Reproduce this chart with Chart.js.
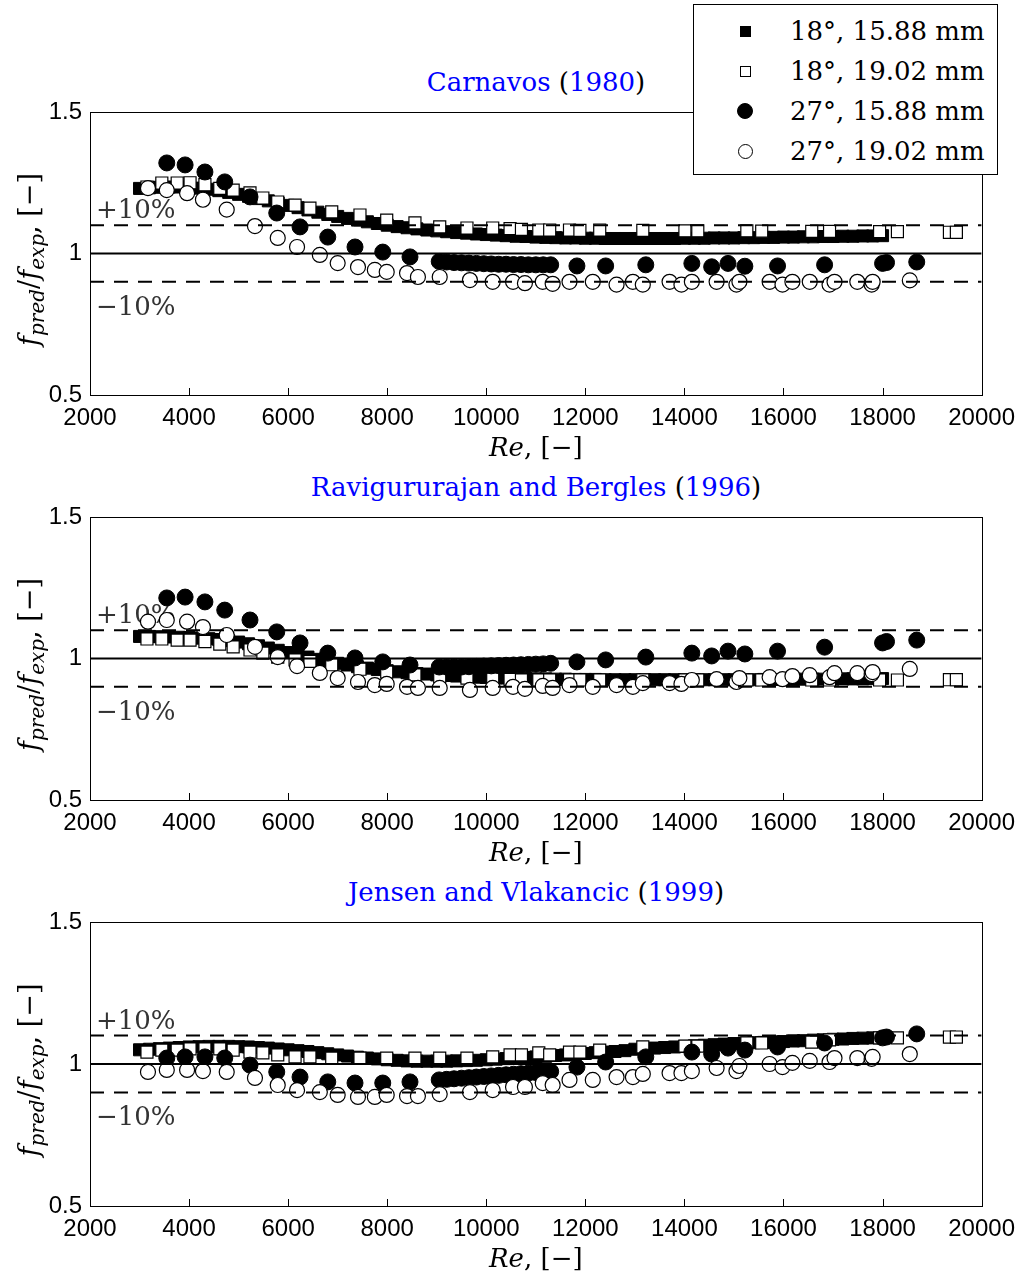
<!DOCTYPE html>
<html>
<head>
<meta charset="utf-8">
<script src="https://cdn.jsdelivr.net/npm/chart.js@4.4.1/dist/chart.umd.min.js"></script>
<style>
  body { margin: 0; background: #fff; width: 1024px; height: 1276px; position: relative; overflow: hidden; }
  canvas { position: absolute; left: 0; }
  .title { position: absolute; left: 90px; width: 892px; text-align: center; font-family: "DejaVu Serif"; font-size: 26px; line-height: 30px; color: #000; }
  .title .cite { color: #0000ff; }
  #legend { position: absolute; left: 693px; top: 4px; width: 303px; height: 169px; border: 1px solid #000; background: #fff; z-index: 5; }
  #legend .row { position: absolute; left: 0; height: 30px; line-height: 30px; font-family: "DejaVu Serif"; font-size: 26px; }
  #legend .lt { position: absolute; left: 96px; white-space: nowrap; }
  #legend .mk { position: absolute; box-sizing: border-box; border: 1px solid #000; }
</style>
</head>
<body>
<div id="t1" class="title" style="top:67px"></div>
<div id="t2" class="title" style="top:472px"></div>
<div id="t3" class="title" style="top:877px"></div>
<canvas id="c1" width="1024" height="480" style="top:0"></canvas>
<canvas id="c2" width="1024" height="410" style="top:470px"></canvas>
<canvas id="c3" width="1024" height="401" style="top:875px"></canvas>
<div id="legend"></div>
<script>
// --- data ---
var seriesNames = ['18°, 15.88 mm', '18°, 19.02 mm', '27°, 15.88 mm', '27°, 19.02 mm'];
var studyNames = ['Carnavos', 'Ravigururajan and Bergles', 'Jensen and Vlakancic'];
var studyYears = ['1980', '1996', '1999'];

var reTicks = [2000, 4000, 6000, 8000, 10000, 12000, 14000, 16000, 18000, 20000];
var ratioTicks = [0.5, 1, 1.5];
var refX = [2000, 20000];
var refLevels = [1, 1.1, 0.9];

// 18°, 15.88 mm (dense, filled squares)
var reSq1588 = [3000,3200,3400,3600,3800,4000,4200,4400,4600,4800,
  5000,5200,5400,5600,5800,6000,6200,6400,6600,6800,
  7000,7200,7400,7600,7800,8000,8200,8400,8600,8800,
  9000,9200,9400,9600,9800,10000,10200,10400,10600,10800,
  11000,11200,11400,11600,11800,12000,12200,12400,12600,12800,
  13000,13200,13400,13600,13800,14000,14200,14400,14600,14800,
  15000,15200,15400,15600,15800,16000,16200,16400,16600,16800,
  17000,17200,17400,17600,17800,18000];
var carnSq1588 = [1.230,1.232,1.234,1.235,1.235,1.234,1.231,1.227,1.222,1.216,
  1.209,1.202,1.194,1.186,1.178,1.170,1.162,1.154,1.146,1.138,
  1.131,1.124,1.118,1.112,1.106,1.100,1.095,1.091,1.087,1.083,
  1.080,1.077,1.074,1.072,1.069,1.067,1.065,1.063,1.061,1.060,
  1.058,1.057,1.056,1.055,1.055,1.054,1.054,1.053,1.053,1.053,
  1.053,1.053,1.053,1.053,1.053,1.054,1.054,1.054,1.055,1.055,
  1.055,1.056,1.056,1.057,1.057,1.058,1.058,1.059,1.059,1.060,
  1.060,1.061,1.061,1.062,1.062,1.063];
var raviSq1588 = [1.078,1.078,1.077,1.076,1.075,1.074,1.072,1.070,1.067,1.063,
  1.058,1.052,1.045,1.037,1.029,1.021,1.013,1.005,0.997,0.990,
  0.983,0.977,0.971,0.966,0.961,0.957,0.953,0.950,0.947,0.945,
  0.942,0.940,0.938,0.936,0.934,0.933,0.932,0.931,0.930,0.929,
  0.928,0.928,0.927,0.927,0.926,0.926,0.926,0.925,0.925,0.925,
  0.925,0.925,0.925,0.925,0.925,0.925,0.925,0.925,0.925,0.925,
  0.925,0.925,0.925,0.926,0.926,0.926,0.926,0.927,0.927,0.927,
  0.927,0.928,0.928,0.928,0.929,0.929];
var jensSq1588 = [1.050,1.052,1.054,1.056,1.058,1.060,1.061,1.062,1.062,1.062,
  1.061,1.060,1.058,1.056,1.053,1.050,1.047,1.044,1.040,1.036,
  1.032,1.028,1.024,1.021,1.018,1.015,1.013,1.011,1.010,1.010,
  1.010,1.010,1.011,1.012,1.013,1.015,1.017,1.019,1.021,1.023,
  1.025,1.027,1.030,1.032,1.035,1.037,1.040,1.042,1.044,1.047,
  1.052,1.054,1.056,1.058,1.060,1.062,1.064,1.066,1.068,1.070,
  1.072,1.073,1.075,1.076,1.078,1.079,1.081,1.082,1.084,1.085,
  1.087,1.088,1.090,1.091,1.092,1.093];

// 18°, 19.02 mm (open squares)
var reSq1902 = [3150,3450,3760,4020,4320,4620,4890,5230,5490,5790,
  6140,6440,6880,7450,7990,8560,9060,9610,10130,10480,
  10710,11060,11280,11680,11890,12290,13160,14010,14270,15260,
  15560,16570,16930,17940,18300,19350,19490];
var carnSq1902 = [1.235,1.249,1.249,1.250,1.243,1.230,1.224,1.214,1.196,1.182,
  1.171,1.160,1.147,1.136,1.118,1.108,1.094,1.090,1.090,1.088,
  1.085,1.083,1.083,1.083,1.082,1.083,1.082,1.080,1.080,1.080,
  1.079,1.078,1.078,1.077,1.077,1.075,1.075];
var raviSq1902 = [1.069,1.069,1.065,1.065,1.060,1.051,1.041,1.030,1.019,1.005,
  0.995,0.990,0.978,0.962,0.952,0.942,0.935,0.931,0.928,0.926,
  0.924,0.924,0.924,0.924,0.924,0.924,0.924,0.924,0.924,0.924,
  0.924,0.924,0.924,0.924,0.924,0.925,0.925];
var jensSq1902 = [1.042,1.049,1.049,1.053,1.053,1.053,1.049,1.042,1.039,1.032,
  1.025,1.025,1.021,1.021,1.021,1.021,1.021,1.021,1.025,1.032,
  1.032,1.039,1.032,1.042,1.042,1.049,1.060,1.063,1.063,1.074,
  1.074,1.077,1.085,1.092,1.092,1.095,1.095];

// 27°, 15.88 mm (filled circles)
var reCi1588 = [3550,3920,4320,4720,5230,5770,6240,6800,7350,7910,8460,
  9050,9200,9350,9500,9650,9800,9950,10100,10250,10400,10550,10700,10850,11000,11150,11300,
  11830,12410,13220,14150,14550,14880,15220,15880,16830,18000,18080,18690];
var carnCi1588 = [1.320,1.313,1.288,1.253,1.200,1.143,1.094,1.058,1.023,1.005,0.988,
  0.972,0.970,0.968,0.967,0.966,0.965,0.964,0.963,0.962,0.962,0.961,0.961,0.960,0.960,0.960,0.960,
  0.956,0.956,0.960,0.965,0.953,0.965,0.955,0.956,0.960,0.965,0.968,0.970];
var raviCi1588 = [1.214,1.217,1.200,1.171,1.136,1.094,1.055,1.019,1.002,0.988,0.977,
  0.970,0.970,0.970,0.970,0.971,0.972,0.973,0.974,0.975,0.976,0.977,0.978,0.979,0.980,0.981,0.983,
  0.988,0.995,1.005,1.019,1.009,1.026,1.016,1.026,1.040,1.055,1.060,1.065];
var jensCi1588 = [1.021,1.025,1.025,1.021,0.996,0.972,0.954,0.937,0.933,0.933,0.937,
  0.944,0.946,0.948,0.950,0.952,0.954,0.956,0.958,0.960,0.962,0.964,0.966,0.968,0.970,0.972,0.974,
  0.989,1.007,1.025,1.042,1.035,1.056,1.049,1.060,1.074,1.092,1.095,1.106];

// 27°, 19.02 mm (open circles)
var reCi1902 = [3170,3550,3960,4280,4760,5330,5790,6180,6640,7000,
  7410,7750,7990,8400,8620,9060,9670,10130,10540,10780,
  11140,11340,11680,12150,12630,12960,13160,13700,13940,14150,
  14650,15050,15110,15720,15980,16180,16530,16930,17030,17490,
  17780,17800,18550];
var carnCi1902 = [1.231,1.224,1.213,1.190,1.155,1.097,1.055,1.023,0.995,0.966,
  0.952,0.942,0.935,0.931,0.917,0.917,0.906,0.900,0.900,0.895,
  0.900,0.893,0.900,0.900,0.890,0.900,0.890,0.900,0.890,0.900,
  0.900,0.890,0.900,0.900,0.890,0.900,0.900,0.890,0.900,0.900,
  0.890,0.900,0.905];
var raviCi1902 = [1.130,1.136,1.130,1.111,1.083,1.041,1.005,0.973,0.949,0.931,
  0.917,0.906,0.910,0.900,0.896,0.896,0.889,0.896,0.900,0.893,
  0.903,0.896,0.906,0.900,0.906,0.900,0.913,0.913,0.910,0.924,
  0.927,0.917,0.931,0.934,0.927,0.938,0.941,0.934,0.948,0.948,
  0.945,0.952,0.963];
var jensCi1902 = [0.972,0.979,0.979,0.975,0.972,0.951,0.926,0.908,0.901,0.891,
  0.884,0.884,0.891,0.887,0.887,0.894,0.901,0.908,0.919,0.919,
  0.933,0.926,0.944,0.944,0.954,0.954,0.965,0.968,0.968,0.975,
  0.986,0.975,0.993,1.000,0.989,1.004,1.011,1.007,1.021,1.021,
  1.018,1.025,1.035];

// --- helpers ---
var serif = '"DejaVu Serif"';

function pts(xs, ys) {
  return xs.map(function (x, i) { return { x: x, y: ys[i] }; });
}

// titles: names blue, parentheses black
studyNames.forEach(function (name, i) {
  document.getElementById('t' + (i + 1)).innerHTML =
    '<span class="cite">' + name + '</span> (<span class="cite">' + studyYears[i] + '</span>)';
});

// legend
var legendMarks = [
  { w: 11, h: 11, r: '0', bg: '#000' },
  { w: 11, h: 11, r: '0', bg: '#fff' },
  { w: 16, h: 16, r: '50%', bg: '#000' },
  { w: 15, h: 15, r: '50%', bg: '#fff' }
];
var legend = document.getElementById('legend');
seriesNames.forEach(function (name, i) {
  var row = document.createElement('div');
  row.className = 'row';
  row.style.top = (11 + 40 * i) + 'px';
  row.style.width = '100%';
  var m = legendMarks[i];
  var mk = document.createElement('span');
  mk.className = 'mk';
  mk.style.width = m.w + 'px';
  mk.style.height = m.h + 'px';
  mk.style.left = (51 - m.w / 2) + 'px';
  mk.style.top = (15 - m.h / 2) + 'px';
  mk.style.borderRadius = m.r;
  mk.style.background = m.bg;
  var lt = document.createElement('span');
  lt.className = 'lt';
  lt.textContent = name;
  row.appendChild(mk);
  row.appendChild(lt);
  legend.appendChild(row);
});

function drawParts(ctx, parts, x0, y0, rotate) {
  ctx.save();
  ctx.translate(x0, y0);
  if (rotate) ctx.rotate(-Math.PI / 2);
  ctx.textBaseline = 'alphabetic';
  ctx.textAlign = 'left';
  var total = 0;
  parts.forEach(function (p) { ctx.font = p.font; p.w = ctx.measureText(p.t).width; total += p.w; });
  var x = -total / 2;
  parts.forEach(function (p) { ctx.font = p.font; ctx.fillText(p.t, x, p.dy); x += p.w; });
  ctx.restore();
}

var decorPlugin = {
  id: 'decor',
  beforeDatasetsDraw: function (chart) {
    var ctx = chart.ctx, a = chart.chartArea, y = chart.scales.y;
    ctx.save();
    ctx.fillStyle = '#333';
    ctx.font = '26px ' + serif;
    ctx.textAlign = 'left';
    ctx.textBaseline = 'alphabetic';
    ctx.fillText('+10%', a.left + 6, y.getPixelForValue(refLevels[1]) - 7);
    ctx.fillText('\u221210%', a.left + 6, y.getPixelForValue(refLevels[2]) + 33);
    ctx.restore();
  },
  afterDraw: function (chart) {
    var ctx = chart.ctx, a = chart.chartArea, x = chart.scales.x;
    ctx.save();
    ctx.strokeStyle = '#000';
    ctx.lineWidth = 1;
    ctx.strokeRect(Math.round(a.left) + 0.5, Math.round(a.top) + 0.5, Math.round(a.width), Math.round(a.height));
    ctx.beginPath();
    reTicks.forEach(function (v) {
      var px = Math.round(x.getPixelForValue(v)) + 0.5;
      ctx.moveTo(px, a.bottom);
      ctx.lineTo(px, a.bottom - 7);
    });
    ctx.stroke();
    ctx.fillStyle = '#000';
    drawParts(ctx, [
      { t: 'Re', font: 'italic 26px ' + serif, dy: 0 },
      { t: ', [\u2212]', font: '26px ' + serif, dy: 0 }
    ], (a.left + a.right) / 2, a.bottom + 61, false);
    drawParts(ctx, [
      { t: 'f', font: 'italic 27px ' + serif, dy: 0 },
      { t: 'pred', font: 'italic 20px ' + serif, dy: 6 },
      { t: '/', font: '27px ' + serif, dy: 0 },
      { t: 'f', font: 'italic 27px ' + serif, dy: 0 },
      { t: 'exp', font: 'italic 20px ' + serif, dy: 6 },
      { t: ', [\u2212]', font: '27px ' + serif, dy: 0 }
    ], 38, (a.top + a.bottom) / 2 + 6, true);
    ctx.restore();
  }
};

function makeChart(id, padTop, padBottom, sq1588, sq1902, ci1588, ci1902) {
  var datasets = [];
  refLevels.forEach(function (lvl, i) {
    datasets.push({
      type: 'scatter',
      data: refX.map(function (x) { return { x: x, y: lvl }; }),
      showLine: true,
      borderColor: '#000',
      borderWidth: 2,
      borderDash: i === 0 ? [] : [14, 10],
      pointRadius: 0,
      order: 0
    });
  });
  datasets.push({ data: pts(reSq1588, sq1588), pointStyle: 'rect', pointRadius: 8.5,
    backgroundColor: '#000', borderColor: '#000', borderWidth: 1, order: 4 });
  datasets.push({ data: pts(reSq1902, sq1902), pointStyle: 'rect', pointRadius: 8.5,
    backgroundColor: '#fff', borderColor: '#000', borderWidth: 1.2, order: 3 });
  datasets.push({ data: pts(reCi1588, ci1588), pointStyle: 'circle', pointRadius: 8,
    backgroundColor: '#000', borderColor: '#000', borderWidth: 1, order: 2 });
  datasets.push({ data: pts(reCi1902, ci1902), pointStyle: 'circle', pointRadius: 7.5,
    backgroundColor: '#fff', borderColor: '#000', borderWidth: 1.2, order: 1 });

  return new Chart(document.getElementById(id).getContext('2d'), {
    type: 'scatter',
    data: { datasets: datasets },
    options: {
      responsive: false,
      animation: false,
      events: [],
      layout: { padding: { top: padTop, right: 42, left: 0, bottom: padBottom } },
      plugins: { legend: { display: false }, tooltip: { enabled: false } },
      scales: {
        x: {
          type: 'linear', min: 2000, max: 20000,
          grid: { display: false, drawTicks: false },
          border: { display: false },
          afterBuildTicks: function (s) { s.ticks = reTicks.map(function (v) { return { value: v }; }); },
          afterFit: function (s) { s.height = 45; },
          ticks: { autoSkip: false, maxRotation: 0, padding: 9, color: '#000',
            font: { family: 'Liberation Sans', size: 24 },
            callback: function (v) { return String(v); } }
        },
        y: {
          type: 'linear', min: 0.5, max: 1.5,
          grid: { display: false, drawTicks: false },
          border: { display: false },
          afterBuildTicks: function (s) { s.ticks = ratioTicks.map(function (v) { return { value: v }; }); },
          afterFit: function (s) { s.width = 90; },
          ticks: { padding: 8, color: '#000',
            font: { family: 'Liberation Sans', size: 24 },
            callback: function (v) { return String(v); } }
        }
      }
    },
    plugins: [decorPlugin]
  });
}

makeChart('c1', 112, 40, carnSq1588, carnSq1902, carnCi1588, carnCi1902);
makeChart('c2', 47, 35, raviSq1588, raviSq1902, raviCi1588, raviCi1902);
makeChart('c3', 47, 25, jensSq1588, jensSq1902, jensCi1588, jensCi1902);
</script>
</body>
</html>
